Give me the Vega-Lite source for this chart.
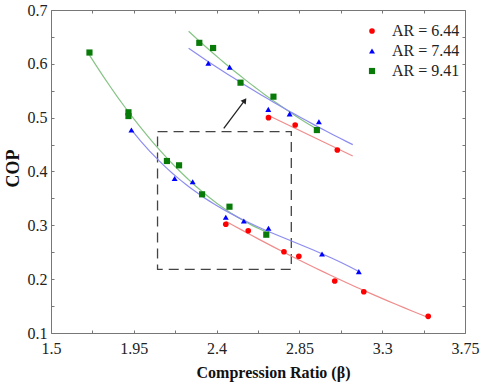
{
  "$schema": "https://vega.github.io/schema/vega-lite/v6.json",
  "width": 414,
  "height": 323,
  "autosize": "none",
  "padding": {"left": 51, "top": 10, "right": 15, "bottom": 54},
  "background": "white",
  "config": {"view": {"stroke": null}},
  "datasets": {
    "pts": [
      {"x": 1.709, "y": 0.621, "AR": "AR = 9.41", "part": "main"},
      {"x": 1.921, "y": 0.510, "AR": "AR = 9.41", "part": "main"},
      {"x": 1.921, "y": 0.503, "AR": "AR = 9.41", "part": "main"},
      {"x": 2.130, "y": 0.4195, "AR": "AR = 9.41", "part": "main"},
      {"x": 2.196, "y": 0.4115, "AR": "AR = 9.41", "part": "main"},
      {"x": 2.321, "y": 0.3576, "AR": "AR = 9.41", "part": "main"},
      {"x": 2.470, "y": 0.3346, "AR": "AR = 9.41", "part": "main"},
      {"x": 2.670, "y": 0.2826, "AR": "AR = 9.41", "part": "main"},
      {"x": 1.937, "y": 0.477, "AR": "AR = 7.44", "part": "main"},
      {"x": 2.172, "y": 0.387, "AR": "AR = 7.44", "part": "main"},
      {"x": 2.270, "y": 0.381, "AR": "AR = 7.44", "part": "main"},
      {"x": 2.450, "y": 0.315, "AR": "AR = 7.44", "part": "main"},
      {"x": 2.548, "y": 0.308, "AR": "AR = 7.44", "part": "main"},
      {"x": 2.682, "y": 0.2945, "AR": "AR = 7.44", "part": "main"},
      {"x": 2.973, "y": 0.2467, "AR": "AR = 7.44", "part": "main"},
      {"x": 3.173, "y": 0.2139, "AR": "AR = 7.44", "part": "main"},
      {"x": 2.450, "y": 0.302, "AR": "AR = 6.44", "part": "main"},
      {"x": 2.572, "y": 0.290, "AR": "AR = 6.44", "part": "main"},
      {"x": 2.766, "y": 0.251, "AR": "AR = 6.44", "part": "main"},
      {"x": 2.847, "y": 0.2425, "AR": "AR = 6.44", "part": "main"},
      {"x": 3.042, "y": 0.1966, "AR": "AR = 6.44", "part": "main"},
      {"x": 3.200, "y": 0.1767, "AR": "AR = 6.44", "part": "main"},
      {"x": 3.550, "y": 0.131, "AR": "AR = 6.44", "part": "main"},
      {"x": 2.306, "y": 0.639, "AR": "AR = 9.41", "part": "inset"},
      {"x": 2.381, "y": 0.6294, "AR": "AR = 9.41", "part": "inset"},
      {"x": 2.530, "y": 0.565, "AR": "AR = 9.41", "part": "inset"},
      {"x": 2.709, "y": 0.539, "AR": "AR = 9.41", "part": "inset"},
      {"x": 2.945, "y": 0.477, "AR": "AR = 9.41", "part": "inset"},
      {"x": 2.355, "y": 0.601, "AR": "AR = 7.44", "part": "inset"},
      {"x": 2.471, "y": 0.594, "AR": "AR = 7.44", "part": "inset"},
      {"x": 2.681, "y": 0.5155, "AR": "AR = 7.44", "part": "inset"},
      {"x": 2.797, "y": 0.507, "AR": "AR = 7.44", "part": "inset"},
      {"x": 2.956, "y": 0.4925, "AR": "AR = 7.44", "part": "inset"},
      {"x": 2.682, "y": 0.500, "AR": "AR = 6.44", "part": "inset"},
      {"x": 2.827, "y": 0.4864, "AR": "AR = 6.44", "part": "inset"},
      {"x": 3.056, "y": 0.440, "AR": "AR = 6.44", "part": "inset"}
    ],
    "box": [{"x": 2.079, "x2": 2.806, "y": 0.2183, "y2": 0.474}],
    "arrow": [{"x": 2.439, "y": 0.480, "x2": 2.553, "y2": 0.532}]
  },
  "layer": [
    {
      "data": {"name": "box"},
      "mark": {"type": "rect", "fill": null, "stroke": "#444", "strokeWidth": 1.3, "strokeDash": [10, 6]},
      "encoding": {
        "x": {"field": "x", "type": "quantitative", "scale": {"domain": [1.5, 3.75], "nice": false, "zero": false},
          "axis": {"orient": "top", "values": [1.5, 1.725, 1.95, 2.175, 2.4, 2.625, 2.85, 3.075, 3.3, 3.525, 3.75], "labels": false, "title": null, "grid": false, "tickSize": -3, "domainColor": "#777", "tickColor": "#777"}},
        "x2": {"field": "x2"},
        "y": {"field": "y", "type": "quantitative", "scale": {"domain": [0.1, 0.7], "nice": false, "zero": false},
          "axis": {"orient": "right", "values": [0.1, 0.15, 0.2, 0.25, 0.3, 0.35, 0.4, 0.45, 0.5, 0.55, 0.6, 0.65, 0.7], "labels": false, "title": null, "grid": false, "tickSize": -3, "domainColor": "#777", "tickColor": "#777"}},
        "y2": {"field": "y2"}
      }
    },
    {
      "data": {"name": "arrow"},
      "mark": {"type": "rule", "color": "#222", "strokeWidth": 1.3},
      "encoding": {
        "x": {"field": "x", "type": "quantitative", "axis": null},
        "y": {"field": "y", "type": "quantitative", "axis": null},
        "x2": {"field": "x2"},
        "y2": {"field": "y2"}
      }
    },
    {
      "data": {"name": "arrow"},
      "mark": {"type": "point", "shape": "triangle-up", "filled": true, "color": "#222", "size": 40, "angle": 35, "opacity": 1},
      "encoding": {
        "x": {"field": "x2", "type": "quantitative", "axis": null},
        "y": {"field": "y2", "type": "quantitative", "axis": null}
      }
    },
    {
      "data": {"name": "pts"},
      "transform": [{"filter": "datum.part == 'main' && datum.AR == 'AR = 9.41'"}, {"regression": "y", "on": "x", "method": "poly", "order": 2}],
      "mark": {"type": "line", "color": "#86c486", "strokeWidth": 1.2},
      "encoding": {"x": {"field": "x", "type": "quantitative", "axis": null}, "y": {"field": "y", "type": "quantitative", "axis": null}}
    },
    {
      "data": {"name": "pts"},
      "transform": [{"filter": "datum.part == 'main' && datum.AR == 'AR = 7.44'"}, {"regression": "y", "on": "x", "method": "poly", "order": 3}],
      "mark": {"type": "line", "color": "#8c8cf0", "strokeWidth": 1.2},
      "encoding": {"x": {"field": "x", "type": "quantitative", "axis": null}, "y": {"field": "y", "type": "quantitative", "axis": null}}
    },
    {
      "data": {"name": "pts"},
      "transform": [{"filter": "datum.part == 'main' && datum.AR == 'AR = 6.44'"}, {"regression": "y", "on": "x", "method": "poly", "order": 2}],
      "mark": {"type": "line", "color": "#f08c8c", "strokeWidth": 1.2},
      "encoding": {"x": {"field": "x", "type": "quantitative", "axis": null}, "y": {"field": "y", "type": "quantitative", "axis": null}}
    },
    {
      "data": {"name": "pts"},
      "transform": [{"filter": "datum.part == 'inset' && datum.AR == 'AR = 9.41'"}, {"regression": "y", "on": "x", "method": "poly", "order": 2, "extent": [2.248, 2.945]}],
      "mark": {"type": "line", "color": "#86c486", "strokeWidth": 1.2},
      "encoding": {"x": {"field": "x", "type": "quantitative", "axis": null}, "y": {"field": "y", "type": "quantitative", "axis": null}}
    },
    {
      "data": {"name": "pts"},
      "transform": [{"filter": "datum.part == 'inset' && datum.AR == 'AR = 7.44'"}, {"regression": "y", "on": "x", "method": "exp", "extent": [2.248, 3.14]}],
      "mark": {"type": "line", "color": "#8c8cf0", "strokeWidth": 1.2},
      "encoding": {"x": {"field": "x", "type": "quantitative", "axis": null}, "y": {"field": "y", "type": "quantitative", "axis": null}}
    },
    {
      "data": {"name": "pts"},
      "transform": [{"filter": "datum.part == 'inset' && datum.AR == 'AR = 6.44'"}, {"regression": "y", "on": "x", "method": "linear", "extent": [2.682, 3.14]}],
      "mark": {"type": "line", "color": "#f08c8c", "strokeWidth": 1.2},
      "encoding": {"x": {"field": "x", "type": "quantitative", "axis": null}, "y": {"field": "y", "type": "quantitative", "axis": null}}
    },
    {
      "data": {"name": "pts"},
      "mark": {"type": "point", "filled": true, "opacity": 1},
      "encoding": {
        "x": {"field": "x", "type": "quantitative",
          "axis": {"orient": "bottom", "values": [1.5, 1.725, 1.95, 2.175, 2.4, 2.625, 2.85, 3.075, 3.3, 3.525, 3.75],
            "labelExpr": "indexof([1.5, 1.95, 2.4, 2.85, 3.3, 3.75], datum.value) >= 0 ? '' + datum.value : ''",
            "labelFlush": false, "labelOverlap": false, "grid": false, "tickSize": -3, "labelPadding": 10,
            "domainColor": "#777", "tickColor": "#777", "labelFont": "Liberation Serif", "labelFontSize": 16, "labelColor": "#222",
            "title": "Compression Ratio (β)", "titleFont": "Liberation Serif", "titleFontSize": 16, "titleFontWeight": "bold", "titleColor": "#111",
            "titleX": 222, "titleY": 44, "titleBaseline": "alphabetic", "titleAlign": "center"}},
        "y": {"field": "y", "type": "quantitative",
          "axis": {"orient": "left", "values": [0.1, 0.15, 0.2, 0.25, 0.3, 0.35, 0.4, 0.45, 0.5, 0.55, 0.6, 0.65, 0.7],
            "labelExpr": "indexof([0.1, 0.2, 0.3, 0.4, 0.5, 0.6, 0.7], datum.value) >= 0 ? '' + datum.value : ''",
            "labelFlush": false, "labelOverlap": false, "grid": false, "tickSize": -3, "labelPadding": 7,
            "domainColor": "#777", "tickColor": "#777", "labelFont": "Liberation Serif", "labelFontSize": 16, "labelColor": "#222",
            "title": "COP", "titleFont": "Liberation Serif", "titleFontSize": 18, "titleFontWeight": "bold", "titleColor": "#111",
            "titleAngle": -90, "titleX": -38, "titleY": 158, "titleAlign": "center", "titleBaseline": "middle"}},
        "color": {"field": "AR", "type": "nominal",
          "scale": {"domain": ["AR = 6.44", "AR = 7.44", "AR = 9.41"], "range": ["#ff0000", "#0000ff", "#087a08"]},
          "legend": {"orient": "none", "legendX": 313, "legendY": 13, "title": null, "labelFont": "Liberation Serif", "labelFontSize": 16, "labelColor": "#222", "symbolSize": 40, "labelOffset": 12, "rowPadding": 4, "symbolStrokeWidth": 0}},
        "shape": {"field": "AR", "type": "nominal",
          "scale": {"domain": ["AR = 6.44", "AR = 7.44", "AR = 9.41"], "range": ["circle", "triangle-up", "square"]}},
        "size": {"field": "AR", "type": "nominal",
          "scale": {"domain": ["AR = 6.44", "AR = 7.44", "AR = 9.41"], "range": [32, 38, 55]}, "legend": null}
      }
    }
  ],
  "resolve": {"axis": {"x": "independent", "y": "independent"}}
}
